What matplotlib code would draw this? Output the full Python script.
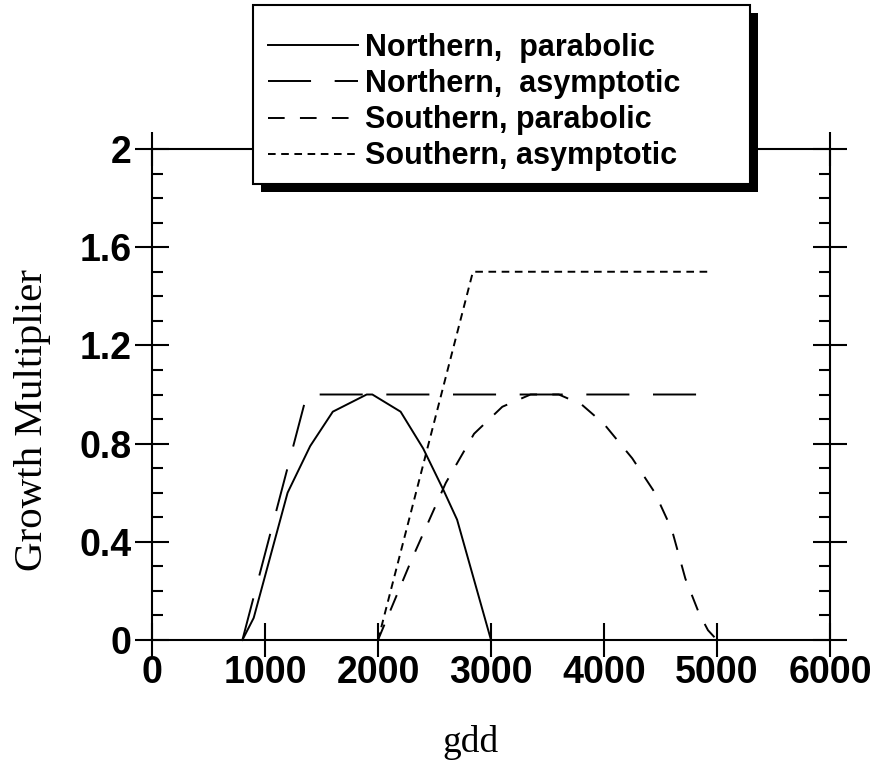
import matplotlib
matplotlib.use("Agg")
import matplotlib.pyplot as plt
from matplotlib.lines import Line2D
from matplotlib.patches import Rectangle
from matplotlib.ticker import MultipleLocator, FuncFormatter

# values (gdd vs growth multiplier)
north_par_x = [800, 900, 1200, 1400, 1600, 1900, 1950, 2200, 2400, 2580, 2700, 3000]
north_par_y = [0.0, 0.09, 0.60, 0.79, 0.93, 1.0, 1.0, 0.93, 0.78, 0.61, 0.49, 0.0]

north_asy_x = [800, 1370, 5000]
north_asy_y = [0.0, 1.0, 1.0]

south_par_x = [2000, 2300, 2600, 2850, 3100, 3350, 3600, 3800, 4000, 4250, 4450,
               4600, 4720, 4840, 4920, 5000]
south_par_y = [0.0, 0.33, 0.64, 0.84, 0.95, 1.0, 1.0, 0.96, 0.88, 0.74, 0.60,
               0.45, 0.25, 0.11, 0.04, 0.0]

south_asy_x = [2000, 2840, 4950]
south_asy_y = [0.0, 1.5, 1.5]

labels = ["Northern,  parabolic", "Northern,  asymptotic",
          "Southern, parabolic", "Southern, asymptotic"]

x_ticks = [0, 1000, 2000, 3000, 4000, 5000, 6000]
y_ticks = [0, 0.4, 0.8, 1.2, 1.6, 2.0]

plt.rcParams['font.family'] = ['Liberation Sans', 'DejaVu Sans']
plt.rcParams['font.weight'] = 'bold'
plt.rcParams['lines.scale_dashes'] = False

W, H = 881, 761
fig = plt.figure(figsize=(W / 100, H / 100), dpi=100)
ax = fig.add_axes([152 / W, 1 - 640 / H, (830 - 152) / W, (640 - 149) / H])

lw = 1.4
styles = [
    dict(linestyle='-'),
    dict(linestyle=(0, (31, 17))),
    dict(linestyle=(0, (12, 11))),
    dict(linestyle=(0, (5.5, 4))),
]
series = [(north_par_x, north_par_y), (north_asy_x, north_asy_y),
          (south_par_x, south_par_y), (south_asy_x, south_asy_y)]
for (xs, ys), st in zip(series, styles):
    ax.plot(xs, ys, color='black', lw=lw, **st, clip_on=False)

ax.set_xlim(0, 6000)
ax.set_ylim(0, 2)
ax.set_xticks(x_ticks)
ax.set_yticks(y_ticks)
ax.yaxis.set_minor_locator(MultipleLocator(0.1))
ax.yaxis.set_major_formatter(FuncFormatter(
    lambda v, p: '%d' % round(v) if abs(v - round(v)) < 1e-9 else '%.1f' % v))

for s in ax.spines.values():
    s.set_linewidth(1.5)
ax.tick_params(axis='both', which='major', direction='inout', length=25, width=1.5,
               top=True, right=True, labelsize=27)
ax.tick_params(axis='x', pad=-2)
ax.tick_params(axis='y', pad=2)
ax.tick_params(axis='y', which='minor', direction='in', length=8, width=1.5,
               left=True, right=True)

fig.text(33 / W, 1 - 420 / H, "Growth Multiplier", rotation=90, ha='center', va='center',
         family='Liberation Serif', weight='normal', fontsize=29.5)
fig.text(471 / W, 1 - 743 / H, "gdd", ha='center', va='center',
         family='Liberation Serif', weight='normal', fontsize=27)

# legend box with heavy drop shadow
def px_rect(x0, y0, x1, y1, **kw):
    return Rectangle((x0 / W, 1 - y1 / H), (x1 - x0) / W, (y1 - y0) / H,
                     transform=fig.transFigure, **kw)

fig.add_artist(px_rect(261, 13, 758, 192, facecolor='black', edgecolor='none', zorder=3))
fig.add_artist(px_rect(253, 5, 750, 184, facecolor='white', edgecolor='black',
                       linewidth=1.5, zorder=4))

handles = [Line2D([], [], color='black', lw=lw, **st) for st in styles]
fig.legend(handles, labels, loc='upper left', bbox_to_anchor=(268 / W, 1 - 33 / H),
           bbox_transform=fig.transFigure, frameon=False, borderpad=0, borderaxespad=0,
           handlelength=2.95, handletextpad=0.23, labelspacing=0.2,
           prop=dict(family='Liberation Sans', weight='bold', size=22))

fig.savefig("out.png", dpi=100)
